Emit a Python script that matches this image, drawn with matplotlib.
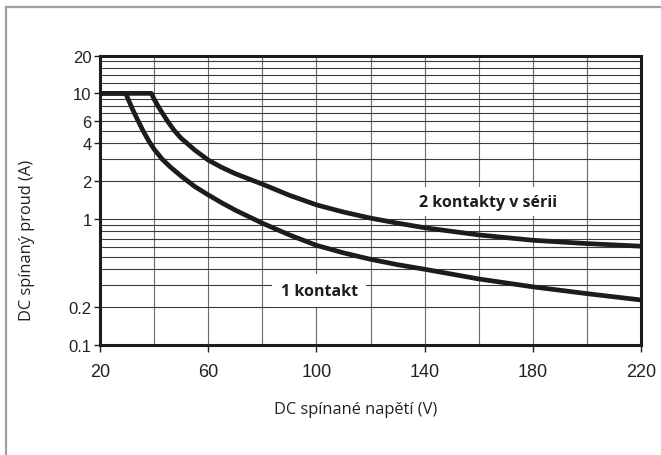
import matplotlib
matplotlib.use("Agg")
import matplotlib.pyplot as plt
from matplotlib.patches import Rectangle
from matplotlib.ticker import FixedLocator, NullLocator

# 1 kontakt
u1 = [20, 29.5, 30.5, 32, 34, 36, 38, 40, 43, 46, 50, 55, 60, 65, 70, 80,
      90, 100, 110, 120, 130, 140, 160, 180, 200, 220]
i1 = [10, 10, 8.9, 7.5, 6.1, 5.0, 4.2, 3.6, 3.0, 2.6, 2.2, 1.82, 1.56, 1.35,
      1.18, 0.93, 0.75, 0.62, 0.54, 0.48, 0.435, 0.40, 0.335, 0.29, 0.256,
      0.228]

# 2 kontakty v serii
u2 = [20, 39, 40, 41.5, 43, 45, 47.5, 50, 55, 60, 65, 70, 80, 90, 100, 110,
      120, 130, 140, 160, 180, 200, 220]
i2 = [10, 10, 9.0, 7.9, 7.0, 6.0, 5.05, 4.4, 3.55, 2.95, 2.58, 2.3, 1.9, 1.55,
      1.3, 1.14, 1.02, 0.93, 0.855, 0.75, 0.68, 0.64, 0.61]

xticks = [20, 60, 100, 140, 180, 220]
yticks = [0.1, 0.2, 1, 2, 4, 6, 10, 20]
ylabels = ["0.1", "0.2", "1", "2", "4", "6", "10", "20"]
xgrid = list(range(20, 221, 20))
ygrid = [0.2, 0.3, 0.4, 0.5, 0.6, 0.7, 0.8, 0.9, 1, 2, 3, 4, 5, 6, 7, 8, 9,
         10, 12, 14, 16, 18]

fig = plt.figure(figsize=(6.61, 4.56), dpi=100)

# grey frame round the chart
fig.patches.append(Rectangle((6 / 661, -0.1), 1.2, 1 - 8 / 456 + 0.1,
                             transform=fig.transFigure, fill=False,
                             edgecolor="#a0a0a0", linewidth=1.6))

ax = fig.add_axes([100 / 661, 1 - 346 / 456, 541 / 661, 289.5 / 456])
ax.set_yscale("log")
ax.set_xlim(20, 220)
ax.set_ylim(0.1, 20)

for x in xgrid:
    ax.axvline(x, color="#6a6a6a", lw=0.8, zorder=1)
for y in ygrid:
    ax.axhline(y, color="#3a3a3a", lw=0.8, zorder=1)

ax.plot(u1, i1, color="#1c1c1c", lw=3.4, solid_capstyle="butt",
        solid_joinstyle="round", zorder=3)
ax.plot(u2, i2, color="#1c1c1c", lw=3.4, solid_capstyle="butt",
        solid_joinstyle="round", zorder=3)

ax.text(163.5, 1.38, "2 kontakty v sérii",
        fontsize=11.5, fontweight="bold", family="Open Sans",
        ha="center", va="center", color="#1c1c1c", zorder=4,
        bbox=dict(facecolor="white", edgecolor="none", pad=5))
ax.text(101, 0.27, "1 kontakt", fontsize=11.5, fontweight="bold",
        family="Open Sans", ha="center", va="center", color="#1c1c1c",
        zorder=4, bbox=dict(facecolor="white", edgecolor="none", pad=6))

ax.xaxis.set_major_locator(FixedLocator(xticks))
ax.yaxis.set_major_locator(FixedLocator(yticks))
ax.yaxis.set_minor_locator(NullLocator())
ax.set_yticklabels(ylabels)
ax.tick_params(axis="x", length=5, width=1, pad=8, labelsize=13,
               colors="#222222")
ax.tick_params(axis="y", length=4, width=1, pad=2, labelsize=12,
               colors="#222222")
for lab in ax.get_xticklabels() + ax.get_yticklabels():
    lab.set_family("Liberation Sans")

for s in ax.spines.values():
    s.set_linewidth(2.2)
    s.set_color("#1c1c1c")

fig.text(356 / 661, 1 - 410 / 456, "DC spínané napětí (V)", fontsize=11.8,
         family="Open Sans", color="#222222", ha="center", va="center")
fig.text(27 / 661, 1 - 240 / 456, "DC spínaný proud (A)", rotation=90,
         fontsize=11.8, family="Open Sans", color="#222222",
         ha="center", va="center")

fig.savefig("out.png", dpi=100)
